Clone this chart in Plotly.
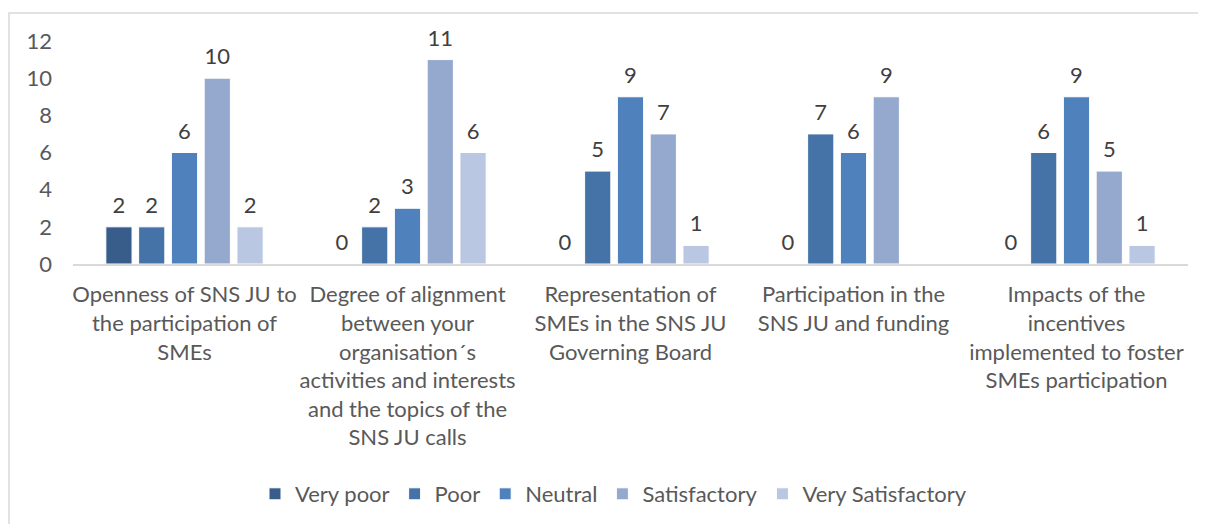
import plotly.graph_objects as go

categories = [
    "Openness of SNS JU to<br>the participation of<br>SMEs",
    "Degree of alignment<br>between your<br>organisation´s<br>activities and interests<br>and the topics of the<br>SNS JU calls",
    "Representation of<br>SMEs in the SNS JU<br>Governing Board",
    "Participation in the<br>SNS JU and funding",
    "Impacts of the<br>incentives<br>implemented to foster<br>SMEs participation",
]
series_names = ["Very poor", "Poor", "Neutral", "Satisfactory", "Very Satisfactory"]
very_poor = [2, 0, 0, 0, 0]
poor = [2, 2, 5, 7, 6]
neutral = [6, 3, 9, 6, 9]
satisfactory = [10, 11, 7, 9, 5]
very_satisfactory = [2, 6, 1, None, 1]
colors = ["#385d8a", "#4573a7", "#4f81bd", "#95a9cf", "#bac7e2"]
yticks = [0, 2, 4, 6, 8, 10, 12]

FONT = "Lato, Calibri, Carlito, sans-serif"
FS = 22
fig = go.Figure()
all_vals = [very_poor, poor, neutral, satisfactory, very_satisfactory]
for i, (name, vals, col) in enumerate(zip(series_names, all_vals, colors)):
    fig.add_trace(go.Bar(
        x=categories, y=vals, name=name, offsetgroup=str(i),
        marker=dict(color=col, line=dict(color="white", width=1)),
    ))
for i, (name, vals) in enumerate(zip(series_names, all_vals)):
    fig.add_trace(go.Scatter(
        x=categories, y=[0 if v is None else v for v in vals],
        offsetgroup=str(i), mode="markers+text", showlegend=False, hoverinfo="skip",
        marker=dict(size=12, opacity=0),
        text=[("" if v is None else str(v)) for v in vals],
        textposition="top center", cliponaxis=False,
        textfont=dict(size=FS, color="#404040", family=FONT),
    ))

# page body has an 8px margin, so the figure is offset by 8px
W, H = 1198, 516
L, R, T, B = 65, 18, 33, 260
PW = W - L - R
PH = H - T - B
fig.update_layout(
    width=W, height=H,
    paper_bgcolor="white", plot_bgcolor="white",
    margin=dict(l=L, r=R, t=T, b=B, autoexpand=False),
    barmode="group", bargap=0.265, bargroupgap=0.2,
    scattermode="group",
    font=dict(family=FONT, color="#595959", size=FS),
    showlegend=True,
    legend=dict(orientation="h", x=0.5 - 17 / PW, xanchor="center", y=-(486 - 256) / PH, yanchor="middle",
                font=dict(size=FS, color="#595959"), itemwidth=30, tracegroupgap=0),
    xaxis=dict(showline=True, linecolor="#d9d9d9", linewidth=2, ticks="",
               ticklabelstandoff=10,
               tickfont=dict(size=FS, color="#595959"), showgrid=False),
    yaxis=dict(range=[0, 12], tickvals=yticks, showgrid=False, showline=False,
               zeroline=False, ticks="", ticklabelstandoff=20,
               tickfont=dict(size=FS, color="#595959")),
    shapes=[dict(type="rect", xref="paper", yref="paper",
                 x0=-(L - 1) / PW, x1=(W - L + 10) / PW, y0=-1.3, y1=(256 - 5) / PH,
                 line=dict(color="#d9d9d9", width=1.5), fillcolor="rgba(0,0,0,0)")],
)
fig.write_html("out.html")
